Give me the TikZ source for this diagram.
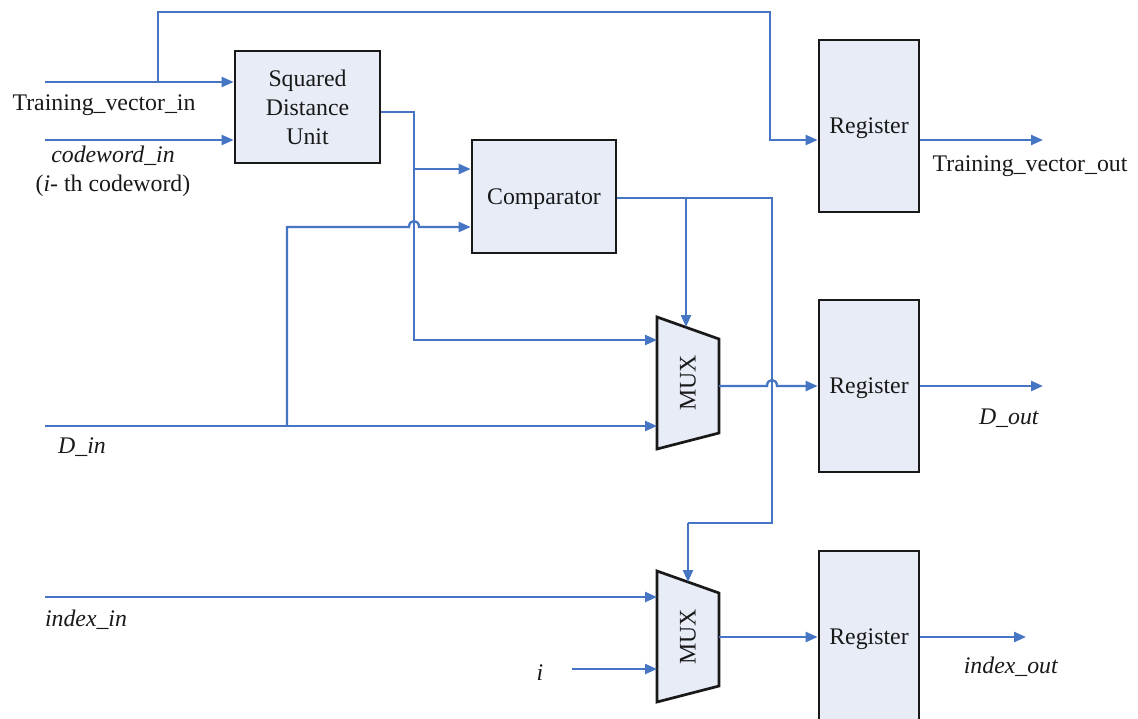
\documentclass[tikz,border=0pt]{standalone}
\usepackage{fontspec}
\setmainfont{Liberation Serif}
\usetikzlibrary{arrows.meta,calc}
\definecolor{wire}{RGB}{70,117,196}
\definecolor{boxfill}{RGB}{231,236,247}
\definecolor{ink}{RGB}{25,25,25}
\tikzset{
  blk/.style={draw=ink,line width=1.35pt,fill=boxfill,align=center,inner sep=0pt,text=ink},
  wireline/.style={draw=wire,line width=1.15pt},
  arr/.style={wireline,-{Triangle[length=6pt,width=5pt]}},
  lbl/.style={text=ink,inner sep=0pt,align=center},
  muxshape/.style={draw=ink,line width=1.35pt,fill=boxfill,line join=miter}
}
\begin{document}
\begin{tikzpicture}[x=0.5pt,y=-0.5pt,font=\fontsize{11.9}{14.5}\selectfont]
\useasboundingbox (0,0) rectangle (1138,718);
\clip (0,0) rectangle (1138,718);
\fill[white] (0,0) rectangle (1138,718);

% blocks
\node[blk,minimum width=72.5pt,minimum height=56pt] (sdu) at (307.5,107) {Squared\\Distance\\Unit};
\node[blk,minimum width=72pt,minimum height=56.5pt,text depth=0pt] (comp) at (544,196.5) {Comparator};
\node[blk,minimum width=50pt,minimum height=86pt,text depth=0pt] (reg1) at (869,126) {Register};
\node[blk,minimum width=50pt,minimum height=86pt,text depth=0pt] (reg2) at (869,386) {Register};
\node[blk,minimum width=50pt,minimum height=86pt,text depth=0pt] (reg3) at (869,637) {Register};

% MUX 1
\path[muxshape] (657,317) -- (719,339) -- (719,433) -- (657,449) -- cycle;
\node[lbl,rotate=90] (mux1) at (688,383) {MUX};
\coordinate (m1a) at (657,340);
\coordinate (m1b) at (657,426);
\coordinate (m1s) at (686,327);
\coordinate (m1o) at (719,386);
% MUX 2
\path[muxshape] (657,571) -- (719,593) -- (719,686) -- (657,702) -- cycle;
\node[lbl,rotate=90] (mux2) at (688,637) {MUX};
\coordinate (m2a) at (657,597);
\coordinate (m2b) at (657,669);
\coordinate (m2s) at (688,582);
\coordinate (m2o) at (719,637);

% input / output end points
\coordinate (tvin) at (45,82);
\coordinate (cwin) at (45,140);
\coordinate (din) at (45,426);
\coordinate (idxin) at (45,597);
\coordinate (iin) at (572,669);
\coordinate (tvout) at (1043,140);
\coordinate (dout) at (1043,386);
\coordinate (idxout) at (1026,637);
\coordinate (tvb) at (158,82);
\coordinate (sdub) at (414,169);
\coordinate (dinb) at (287,426);
\coordinate (compb) at (686,198);

% labels
\node[lbl] (tvinl) at (104,105) {Training\_vector\_in};
\node[lbl] (cwinl) at (113,171) {\textit{codeword\_in}\\(\textit{i}- th codeword)};
\node[lbl] (dinl) at (82,447) {\textit{D\_in}};
\node[lbl] (idxinl) at (86,620) {\textit{index\_in}};
\node[lbl] (il) at (540,673) {\textit{i}};
\node[lbl] (tvoutl) at (1030,166) {Training\_vector\_out};
\node[lbl] (doutl) at (1009,418) {\textit{D\_out}};
\node[lbl] (idxoutl) at (1011,667) {\textit{index\_out}};

% connectors
\draw[arr] (tvin) -- (tvin -| sdu.west);
\draw[arr] (tvb) -- (158,12) -- (770,12) -- (770,140) -- (reg1.west |- tvout);
\draw[arr] (cwin) -- (cwin -| sdu.west);
\draw[arr] (sdu.east |- 0,112) -- (414,112) -- (414,340) -- (m1a);
\draw[arr] (sdub) -- (sdub -| comp.west);
\draw[arr] (din) -- (m1b);
\draw[arr] (dinb) -- (287,227) -- (409,227) .. controls (409,219) and (419,219) .. (419,227) -- (comp.west |- 0,227);
\draw[wireline] (comp.east |- compb) -- (772,198) -- (772,523) -- (688,523);
\draw[arr] (688,523) -- (m2s);
\draw[arr] (compb) -- (m1s);
\draw[arr] (m1o) -- (767,386) .. controls (767,378) and (777,378) .. (777,386) -- (reg2.west |- m1o);
\draw[arr] (reg1.east |- tvout) -- (tvout);
\draw[arr] (reg2.east |- dout) -- (dout);
\draw[arr] (idxin) -- (m2a);
\draw[arr] (iin) -- (m2b);
\draw[arr] (m2o) -- (reg3.west |- m2o);
\draw[arr] (reg3.east |- idxout) -- (idxout);
\end{tikzpicture}
\end{document}
